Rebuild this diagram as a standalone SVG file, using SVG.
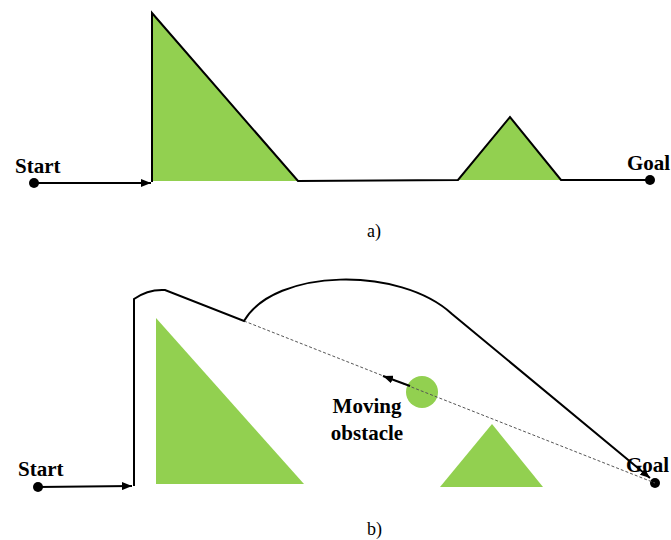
<svg xmlns="http://www.w3.org/2000/svg" width="671" height="540" viewBox="0 0 671 540">
<style>
.obs{fill:#92D050;stroke:none}
.edge{fill:none;stroke:#000;stroke-width:2;stroke-linejoin:miter}
.lbl{font-family:"Liberation Serif",serif;font-weight:bold;font-size:21px;fill:#000}
.cap{font-family:"Liberation Serif",serif;font-size:18px;fill:#000}
.dash{fill:none;stroke:#555;stroke-width:1;stroke-dasharray:3,2}
</style>
<defs>
<marker id="ah" viewBox="0 0 10 8" refX="10" refY="4" markerWidth="10" markerHeight="8" markerUnits="userSpaceOnUse" orient="auto">
<path d="M0,0 L10,4 L0,8 Z" fill="#000"/>
</marker>
</defs>
<g id="obstacles-a">
<polygon class="obs" points="152,13 152,181 298,181"/>
<polygon class="obs" points="458,180 510,117 561,180"/>
</g>
<g id="start-a">
<circle cx="34" cy="183" r="5" fill="#000"/>
<text class="lbl" x="15" y="173">Start</text>
</g>
<g id="goal-a">
<circle cx="650" cy="180" r="5" fill="#000"/>
<text class="lbl" x="627" y="170">Goal</text>
</g>
<g id="connectors-a">
<line class="edge" x1="34" y1="183" x2="151" y2="183" marker-end="url(#ah)"/>
<path class="edge" d="M152,182 L152,13 L298,181 L458,180 L510,117 L561,180 L650,180"/>
</g>
<text class="cap" x="367" y="237">a)</text>
<g id="obstacles-b">
<polygon class="obs" points="156,318 156,484 304,484"/>
<polygon class="obs" points="492,424 440,487 543,487"/>
</g>
<g id="moving-obstacle">
<circle cx="422" cy="392" r="16" fill="#92D050"/>
<text class="lbl" x="367" y="413" text-anchor="middle">Moving</text>
<text class="lbl" x="367" y="440" text-anchor="middle">obstacle</text>
</g>
<g id="start-b">
<circle cx="38" cy="487" r="5" fill="#000"/>
<text class="lbl" x="18" y="476">Start</text>
</g>
<g id="goal-b">
<circle cx="655" cy="483" r="5" fill="#000"/>
<text class="lbl" x="626" y="472">Goal</text>
</g>
<g id="connectors-b">
<line class="dash" x1="244" y1="321" x2="655" y2="483"/>
<line class="edge" x1="410" y1="386" x2="383" y2="376" marker-end="url(#ah)"/>
<line class="edge" x1="38" y1="487" x2="132" y2="486" marker-end="url(#ah)"/>
<path class="edge" d="M134,486 L134,299 Q148,289 165,290 L244,321 C275,268 400,266 452,314 L650,478" marker-end="url(#ah)"/>
</g>
<text class="cap" x="367" y="535">b)</text>
</svg>
